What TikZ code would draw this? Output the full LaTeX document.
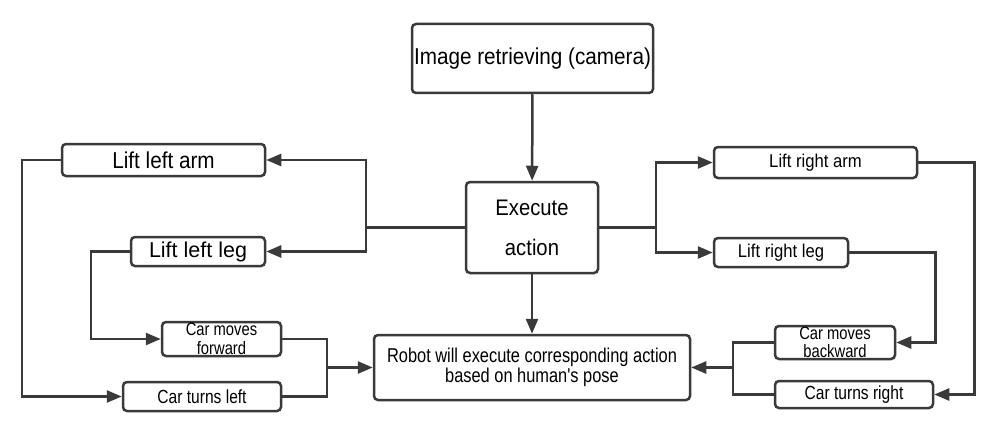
\documentclass[tikz,border=0pt]{standalone}
\usepackage{fontspec}
\setmainfont{Liberation Sans}
\newfontfamily\midfont[FakeStretch=0.9]{Liberation Sans}
\newfontfamily\narrowfont[FakeStretch=0.82]{Liberation Sans}
\usetikzlibrary{arrows.meta}

\definecolor{linegray}{HTML}{3A3A3A}

\begin{document}
\begin{tikzpicture}[x=1pt, y=-1pt,
  box/.style={draw=linegray, line width=2.5pt, rounded corners=4pt, inner sep=0pt, align=center},
  wire/.style={draw=linegray, line width=2.5pt},
  arr/.style={wire, -{Triangle[length=15pt, width=12pt]}},
  bigtxt/.style={font=\midfont\fontsize{23}{24}\selectfont},
  midtxt/.style={font=\midfont\fontsize{18.5}{20}\selectfont},
  smalltxt/.style={font=\narrowfont\fontsize{19}{17}\selectfont},
  twoline/.style={font=\narrowfont\fontsize{18}{18.5}\selectfont}]
\useasboundingbox (0, 0) rectangle (995, 433);

% center column
\node [box, bigtxt, minimum width=241pt, minimum height=69pt] (image) at (532.5, 58.5) {Image retrieving (camera)};
\node [box, minimum width=132pt, minimum height=91pt, font=\midfont\fontsize{22.5}{40}\selectfont] (execute) at (532, 227.5) {Execute\\action};
\node [box, minimum width=316pt, minimum height=65pt, font=\narrowfont\fontsize{20}{17.5}\selectfont] (robot) at (532, 367.5) {Robot will execute corresponding action\\based on human's pose};

% left side
\node [box, bigtxt, minimum width=203pt, minimum height=32pt] (leftarm) at (163.5, 160) {Lift left arm};
\node [box, font=\fontsize{21.5}{22}\selectfont, minimum width=134pt, minimum height=29pt] (leftleg) at (198, 251.5) {Lift left leg};
\node [box, twoline, minimum width=119pt, minimum height=34pt] (forward) at (221.5, 339) {Car moves\\forward};
\node [box, smalltxt, minimum width=158pt, minimum height=29pt] (turnleft) at (202, 396.5) {Car turns left};

% right side
\node [box, midtxt, minimum width=203pt, minimum height=31pt] (rightarm) at (815.5, 162.5) {Lift right arm};
\node [box, midtxt, minimum width=134pt, minimum height=29pt] (rightleg) at (781, 252.5) {Lift right leg};
\node [box, twoline, minimum width=120pt, minimum height=33pt] (backward) at (835, 342.5) {Car moves\\backward};
\node [box, smalltxt, minimum width=158pt, minimum height=27pt] (turnright) at (854, 394.5) {Car turns right};

\coordinate (leftsplit) at (366, 227.5);
\coordinate (rightsplit) at (656, 227.5);
\coordinate (leftmerge) at (327, 367.5);
\coordinate (rightmerge) at (733, 367.5);

\draw [arr] (image) -- (execute);
\draw [arr] (execute) -- (robot);

\draw [wire] (execute.west) -- (leftsplit);
\draw [arr] (leftsplit) |- (leftarm.east);
\draw [arr] (leftsplit) |- (leftleg.east);
\draw [arr] (leftarm.west) -- ++(-39, 0) |- (turnleft.west);
\draw [arr] (leftleg.west) -- ++(-39, 0) |- (forward.west);
\draw [wire] (forward.east) -| (leftmerge);
\draw [wire] (turnleft.east) -| (leftmerge);
\draw [arr] (leftmerge) -- (robot.west);

\draw [wire] (execute.east) -- (rightsplit);
\draw [arr] (rightsplit) |- (rightarm.west);
\draw [arr] (rightsplit) |- (rightleg.west);
\draw [arr] (rightarm.east) -- ++(56, 0) |- (turnright.east);
\draw [arr] (rightleg.east) -- ++(86, 0) |- (backward.east);
\draw [wire] (backward.west) -| (rightmerge);
\draw [wire] (turnright.west) -| (rightmerge);
\draw [arr] (rightmerge) -- (robot.east);
\end{tikzpicture}
\end{document}
